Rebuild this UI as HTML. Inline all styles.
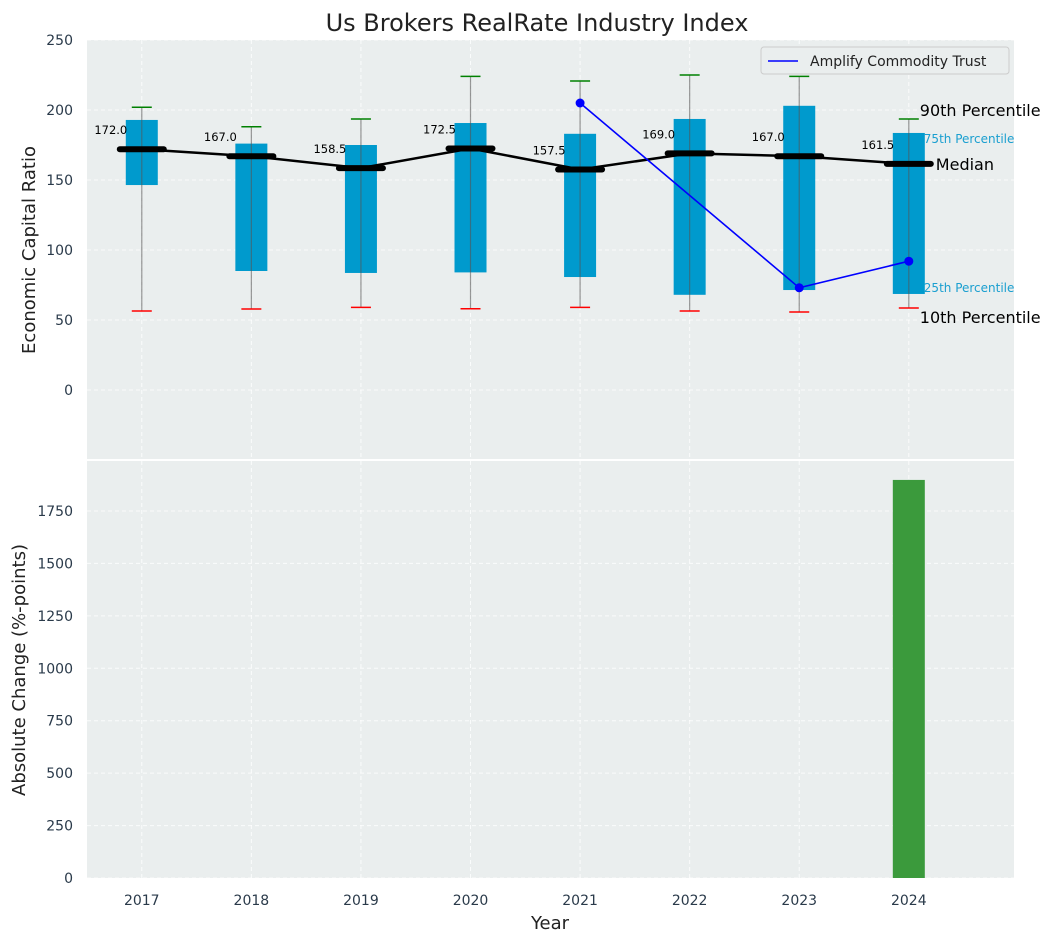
<!DOCTYPE html>
<html><head><meta charset="utf-8"><style>
body{margin:0;background:#fff;font-family:"Liberation Sans","DejaVu Sans",sans-serif}
svg text{font-family:"DejaVu Sans","Liberation Sans",sans-serif}
</style></head><body>
<svg id="c" width="1054" height="942" xmlns="http://www.w3.org/2000/svg"></svg>
<script>
const years=[2017,2018,2019,2020,2021,2022,2023,2024];
const p10=[56.4,57.9,59,58,59,56.4,55.7,58.6];
const p25=[146.4,85,83.6,84,80.7,68,71.4,68.6];
const medians=[172,167,158.5,172.5,157.5,169,167,161.5];
const p75=[192.9,176,175,190.7,183,193.6,203,183.6];
const p90=[202,188,193.6,224,220.7,225,224,193.6];
const trustYears=[2021,2023,2024];
const trustVals=[205,73,92];
const changeYears=[2024];
const changeVals=[1898];
const topTicks=[0,50,100,150,200,250];
const botTicks=[0,250,500,750,1000,1250,1500,1750];

const NS="http://www.w3.org/2000/svg";
const svg=document.getElementById('c');
function el(t,a,p){const e=document.createElementNS(NS,t);for(const k in a)e.setAttribute(k,a[k]);(p||svg).appendChild(e);return e;}
const L=87,R=1014;
const xs=i=>L+(i+0.5)*((R-L)/8.46);
function xi(y){return xs(years.indexOf(y));}
const yT=v=>390-v*1.4;
const yB=v=>878-v*(418/1993);

let g=el('rect',{x:L,y:40,width:R-L,height:419,fill:'#eaeeee'});

g=el('rect',{x:L,y:461,width:R-L,height:417,fill:'#eaeeee'});


years.forEach((y,i)=>{
  el('line',{x1:xs(i),x2:xs(i),y1:40,y2:459,stroke:'#fff','stroke-dasharray':'4,3','stroke-width':1,opacity:.8});
  el('line',{x1:xs(i),x2:xs(i),y1:461,y2:878,stroke:'#fff','stroke-dasharray':'4,3','stroke-width':1,opacity:.8});
  const t=el('text',{x:xs(i),y:905,'font-size':14,'text-anchor':'middle',fill:'#2a3a4a'});t.textContent=y;
  
});
topTicks.forEach(v=>{
  el('line',{x1:L,x2:R,y1:yT(v),y2:yT(v),stroke:'#fff','stroke-dasharray':'4,3',opacity:.8});
  const t=el('text',{x:73,y:yT(v)+5,'font-size':14,'text-anchor':'end',fill:'#2a3a4a'});t.textContent=v;
  
});
botTicks.forEach(v=>{
  el('line',{x1:L,x2:R,y1:yB(v),y2:yB(v),stroke:'#fff','stroke-dasharray':'4,3',opacity:.8});
  const t=el('text',{x:73,y:yB(v)+5,'font-size':14,'text-anchor':'end',fill:'#2a3a4a'});t.textContent=v;
  
});

years.forEach((y,i)=>{
  const x=xs(i);
  const b=el('rect',{x:x-16,y:yT(p75[i]),width:32,height:yT(p25[i])-yT(p75[i]),fill:'#009acd'});
  
  el('line',{x1:x,x2:x,y1:yT(p10[i]),y2:yT(p90[i]),stroke:'#555','stroke-opacity':.6,'stroke-width':1.2});
  el('line',{x1:x-10,x2:x+10,y1:yT(p90[i]),y2:yT(p90[i]),stroke:'green','stroke-width':1.5});
  el('line',{x1:x-10,x2:x+10,y1:yT(p10[i]),y2:yT(p10[i]),stroke:'red','stroke-width':1.5});
});
let d='';years.forEach((y,i)=>{d+=(i?'L':'M')+xs(i)+','+yT(medians[i]);});
g=el('path',{d:d,fill:'none',stroke:'#000','stroke-width':2.5});

years.forEach((y,i)=>{
  const x=xs(i);
  el('line',{x1:x-22,x2:x+22,y1:yT(medians[i]),y2:yT(medians[i]),stroke:'#000','stroke-width':6,'stroke-linecap':'round'});
  const t=el('text',{x:x-31,y:yT(medians[i])-15,'font-size':11.5,'text-anchor':'middle',fill:'#000'});t.textContent=medians[i].toFixed(1);
  
});
d='';trustYears.forEach((y,i)=>{d+=(i?'L':'M')+xi(y)+','+yT(trustVals[i]);});
g=el('path',{d:d,fill:'none',stroke:'blue','stroke-width':1.6});

trustYears.forEach((y,i)=>el('circle',{cx:xi(y),cy:yT(trustVals[i]),r:4.5,fill:'blue'}));

const lx=xs(7);
[['90th Percentile',lx+11,yT(p90[7])-3,16,'#000'],['75th Percentile',lx+15,yT(p75[7])+10,12,'#1a9fd0'],
 ['Median',lx+27,yT(medians[7])+6,16,'#000'],['25th Percentile',lx+15,yT(p25[7])-2,12,'#1a9fd0'],
 ['10th Percentile',lx+11,yT(p10[7])+15,16,'#000']].forEach(a=>{
  const t=el('text',{x:a[1],y:a[2],'font-size':a[3],fill:a[4]});t.textContent=a[0];
  
});

g=el('rect',{x:761,y:47,width:248,height:27,rx:3,fill:'#eaeeee',stroke:'#ccc'});

el('line',{x1:768,x2:798,y1:61,y2:61,stroke:'blue','stroke-width':1.6});
let t=el('text',{x:810,y:66,'font-size':14,fill:'#222'});t.textContent='Amplify Commodity Trust';


changeYears.forEach((y,i)=>{
  const b=el('rect',{x:xi(y)-16,y:yB(changeVals[i]),width:32,height:yB(0)-yB(changeVals[i]),fill:'#3b9a3c'});
  
});

t=el('text',{x:537,y:31,'font-size':24,'text-anchor':'middle',fill:'#222'});t.textContent='Us Brokers RealRate Industry Index';

t=el('text',{x:550,y:929,'font-size':18,'text-anchor':'middle',fill:'#222'});t.textContent='Year';

t=el('text',{x:0,y:0,'font-size':18,'text-anchor':'middle',fill:'#222',transform:'translate(35,250) rotate(-90)'});t.textContent='Economic Capital Ratio';

t=el('text',{x:0,y:0,'font-size':18,'text-anchor':'middle',fill:'#222',transform:'translate(25,670) rotate(-90)'});t.textContent='Absolute Change (%-points)';

</script>
</body></html>
